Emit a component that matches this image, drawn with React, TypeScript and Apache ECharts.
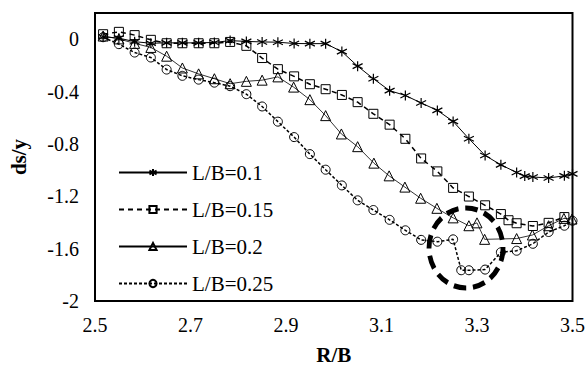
import React, { useEffect, useRef } from "react";
import * as echarts from "echarts";

const xs01 = [2.517, 2.55, 2.583, 2.617, 2.65, 2.683, 2.717, 2.75, 2.783, 2.817, 2.85, 2.883, 2.917, 2.95, 2.983, 3.017, 3.05, 3.083, 3.117, 3.15, 3.183, 3.217, 3.25, 3.283, 3.317, 3.35, 3.383, 3.4, 3.417, 3.45, 3.483, 3.5];
const ys01 = [0.019, 0.008, -0.019, -0.031, -0.028, -0.028, -0.028, -0.025, -0.011, -0.017, -0.021, -0.023, -0.033, -0.034, -0.034, -0.095, -0.206, -0.302, -0.393, -0.43, -0.487, -0.544, -0.628, -0.76, -0.888, -0.96, -1.018, -1.046, -1.053, -1.06, -1.044, -1.029];

const xs015 = [2.517, 2.55, 2.583, 2.617, 2.65, 2.683, 2.717, 2.75, 2.783, 2.817, 2.85, 2.883, 2.917, 2.95, 2.983, 3.017, 3.05, 3.083, 3.117, 3.15, 3.183, 3.217, 3.25, 3.283, 3.317, 3.35, 3.366, 3.383, 3.417, 3.45, 3.483];
const ys015 = [0.038, 0.056, 0.031, -0.005, -0.031, -0.031, -0.031, -0.031, -0.021, -0.051, -0.144, -0.229, -0.284, -0.344, -0.382, -0.426, -0.481, -0.57, -0.653, -0.761, -0.911, -1.01, -1.136, -1.202, -1.269, -1.336, -1.383, -1.406, -1.427, -1.403, -1.359];

const xs02 = [2.517, 2.55, 2.583, 2.617, 2.65, 2.683, 2.717, 2.75, 2.783, 2.817, 2.85, 2.883, 2.916, 2.95, 2.983, 3.016, 3.05, 3.084, 3.116, 3.149, 3.182, 3.216, 3.25, 3.283, 3.3, 3.316, 3.383, 3.416, 3.45, 3.482, 3.499];
const ys02 = [0.024, 0.002, -0.032, -0.063, -0.13, -0.22, -0.265, -0.302, -0.34, -0.322, -0.313, -0.288, -0.366, -0.462, -0.584, -0.724, -0.821, -0.947, -1.044, -1.13, -1.215, -1.292, -1.365, -1.425, -1.403, -1.529, -1.523, -1.496, -1.425, -1.369, -1.374];

const xs025 = [2.517, 2.55, 2.583, 2.617, 2.65, 2.683, 2.717, 2.75, 2.783, 2.817, 2.85, 2.883, 2.917, 2.95, 2.983, 3.017, 3.05, 3.083, 3.117, 3.15, 3.183, 3.217, 3.25, 3.267, 3.283, 3.317, 3.35, 3.383, 3.417, 3.45, 3.483, 3.5];
const ys025 = [0.015, -0.038, -0.102, -0.14, -0.232, -0.28, -0.309, -0.332, -0.359, -0.42, -0.514, -0.63, -0.748, -0.878, -0.997, -1.117, -1.231, -1.305, -1.38, -1.46, -1.533, -1.547, -1.529, -1.765, -1.765, -1.76, -1.628, -1.616, -1.563, -1.473, -1.425, -1.387];

const seriesNames = ["L/B=0.1", "L/B=0.15", "L/B=0.2", "L/B=0.25"];
const highlightCenter = [3.277, -1.595];

const xTicks = { min: 2.5, max: 3.5, interval: 0.2 };
const yTicks = { min: -2, max: 0.2, interval: 0.4 };

const zip = (xs: number[], ys: number[]) => xs.map((x, i) => [x, ys[i]]);

const FONT = "Liberation Serif";
const ASTERISK = "path://M5,0L5,10M0.7,2.5L9.3,7.5M0.7,7.5L9.3,2.5";

export default function App() {
  const ref = useRef<HTMLDivElement>(null);
  useEffect(() => {
    if (!ref.current) return;
    const chart = echarts.init(ref.current, null, { renderer: "svg" });
    const hollow = { color: "transparent", borderColor: "#000", borderWidth: 1 };
    chart.setOption({
      animation: false,
      backgroundColor: "#fff",
      textStyle: { fontFamily: FONT },
      grid: { left: 89, right: 13, top: 13, bottom: 68, show: true, borderColor: "#000", borderWidth: 2, backgroundColor: "transparent" },
      xAxis: {
        type: "value",
        ...xTicks,
        name: "R/B",
        nameLocation: "middle",
        nameGap: 43,
        nameTextStyle: { fontFamily: FONT, fontSize: 21, fontWeight: "bold", color: "#000" },
        axisLine: { show: false },
        axisTick: { show: false },
        splitLine: { show: false },
        axisLabel: { fontFamily: FONT, fontSize: 20, color: "#000", margin: 14 },
      },
      yAxis: {
        type: "value",
        ...yTicks,
        name: "ds/y",
        nameLocation: "middle",
        nameGap: 66,
        nameTextStyle: { fontFamily: FONT, fontSize: 21, fontWeight: "bold", color: "#000" },
        axisLine: { show: false },
        axisTick: { show: false },
        splitLine: { show: false },
        axisLabel: {
          fontFamily: FONT,
          fontSize: 20,
          color: "#000",
          margin: 16,
          formatter: (v: number) => (v > 0.1 ? "" : String(Math.round(v * 10) / 10)),
        },
      },
      legend: {
        data: seriesNames,
        orient: "vertical",
        left: 118,
        top: 162,
        padding: 0,
        itemWidth: 68,
        itemHeight: 9,
        itemGap: 16,
        textStyle: { fontFamily: FONT, fontSize: 21, color: "#000" },
      },
      series: [
        {
          name: seriesNames[0],
          type: "line",
          data: zip(xs01, ys01),
          symbol: ASTERISK,
          symbolSize: 10,
          lineStyle: { color: "#000", width: 1 },
          itemStyle: { color: "transparent", borderColor: "#000", borderWidth: 1.2 },
        },
        {
          name: seriesNames[1],
          type: "line",
          data: zip(xs015, ys015),
          symbol: "rect",
          symbolSize: 9,
          lineStyle: { color: "#000", width: 1.5, type: [5, 4] },
          itemStyle: hollow,
        },
        {
          name: seriesNames[2],
          type: "line",
          data: zip(xs02, ys02),
          symbol: "triangle",
          symbolSize: 10,
          lineStyle: { color: "#000", width: 0.8 },
          itemStyle: hollow,
        },
        {
          name: seriesNames[3],
          type: "line",
          data: zip(xs025, ys025),
          symbol: "circle",
          symbolSize: 9,
          lineStyle: { color: "#000", width: 1.5, type: [3, 2] },
          itemStyle: hollow,
        },
        {
          name: "highlight",
          type: "scatter",
          data: [highlightCenter],
          symbol: "circle",
          symbolSize: [74, 80],
          silent: true,
          itemStyle: { color: "transparent", borderColor: "#000", borderWidth: 5, borderType: [13, 7], opacity: 1 },
          z: 5,
        },
      ],
    });
    return () => chart.dispose();
  }, []);
  return <div ref={ref} style={{ position: "absolute", left: 0, top: 0, width: 588, height: 370 }} />;
}
